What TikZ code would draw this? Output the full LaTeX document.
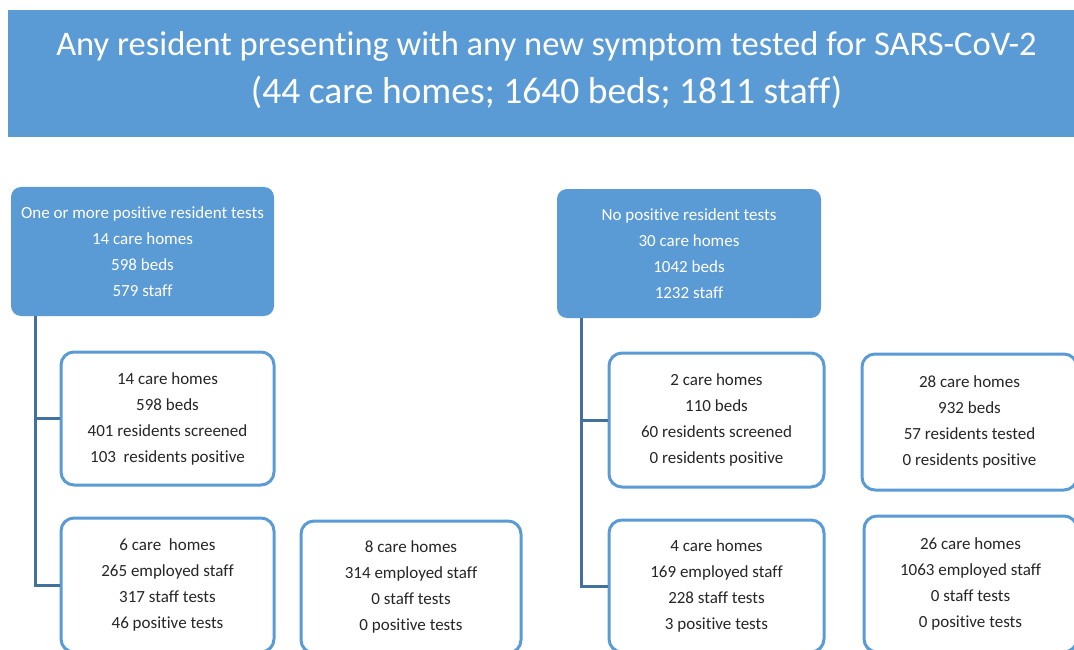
\documentclass[tikz,border=0pt]{standalone}
\usepackage{fontspec}
\setmainfont{Carlito}[RawFeature={-liga}]
\definecolor{boxblue}{HTML}{5B9BD5}
\definecolor{linkblue}{HTML}{41719C}
\definecolor{ink}{HTML}{262626}
\tikzset{
  header/.style={fill=boxblue, draw=none, inner sep=0pt},
  headtext/.style={text=white, align=center, inner sep=0pt,
    font=\fontsize{34.5}{48}\selectfont},
  group/.style={fill=boxblue, draw=none, rounded corners=10pt, text=white, align=center,
    inner sep=0pt, font=\fontsize{17}{26}\selectfont},
  leaf/.style={fill=white, draw=boxblue, line width=3pt, rounded corners=13pt, text=ink,
    align=center, inner sep=0pt, font=\fontsize{17}{26}\selectfont},
  conn/.style={draw=linkblue, line width=3pt}
}
\begin{document}
\begin{tikzpicture}[x=1pt,y=-1pt]
\useasboundingbox (0,0) rectangle (1074,650);
% header
\node[header, minimum width=1072pt, minimum height=127pt] (hdr) at (544,73.5) {};
\node[headtext] (hdrtext) at (546.5,70)
  {Any resident presenting with any new symptom tested for SARS-CoV-2\\{\fontsize{37.5}{48}\selectfont (44 care homes; 1640 beds; 1811 staff)}};
% group boxes
\node[group, minimum width=263pt, minimum height=129pt] (gl) at (142.5,251.5)
  {One or more positive resident tests\\14 care homes\\598 beds\\579 staff};
\node[group, minimum width=264pt, minimum height=129pt] (gr) at (689,253.5)
  {No positive resident tests\\30 care homes\\1042 beds\\1232 staff};
% left leaves
\node[leaf, minimum width=213pt, minimum height=133pt] (l1) at (167.5,418.5)
  {14 care homes\\598 beds\\401 residents screened\\103\ \ residents positive};
\node[leaf, minimum width=213pt, minimum height=134pt] (l2) at (167.5,585)
  {6 care\ \ homes\\265 employed staff\\317 staff tests\\46 positive tests};
\node[leaf, minimum width=220pt, minimum height=132pt] (l3) at (411,587)
  {8 care homes\\314 employed staff\\0 staff tests\\0 positive tests};
% right leaves
\node[leaf, minimum width=215pt, minimum height=134pt] (r1) at (716.5,420)
  {2 care homes\\110 beds\\60 residents screened\\0 residents positive};
\node[leaf, minimum width=215pt, minimum height=132pt] (r2) at (716.5,586)
  {4 care homes\\169 employed staff\\228 staff tests\\3 positive tests};
\node[leaf, minimum width=215pt, minimum height=136pt] (r3) at (969.5,422)
  {28 care homes\\932 beds\\57 residents tested\\0 residents positive};
\node[leaf, minimum width=213pt, minimum height=136pt] (r4) at (970.5,584)
  {26 care homes\\1063 employed staff\\0 staff tests\\0 positive tests};
% connectors
\draw[conn] ([xshift=25pt]gl.south west) |- (l1.west);
\draw[conn] ([xshift=25pt]gl.south west) |- (l2.west);
\draw[conn] ([xshift=25pt]gr.south west) |- (r1.west);
\draw[conn] ([xshift=25pt]gr.south west) |- (r2.west);
\end{tikzpicture}
\end{document}
